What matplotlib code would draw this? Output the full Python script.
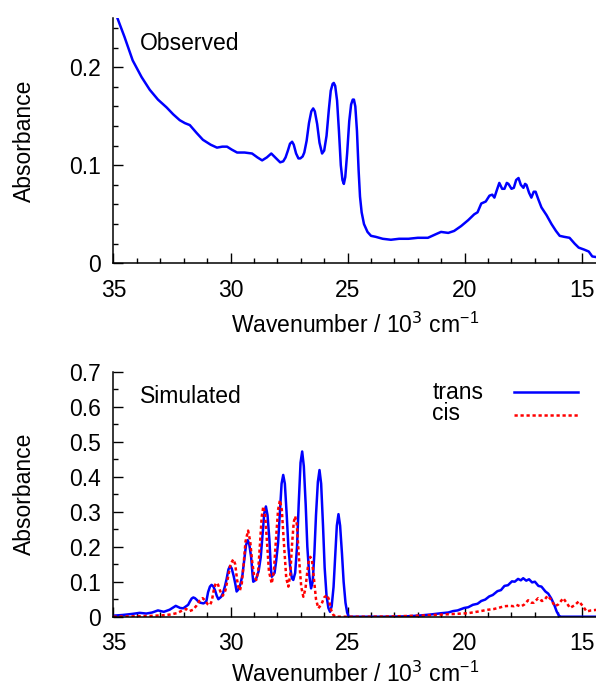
import matplotlib
matplotlib.use("Agg")
import matplotlib.pyplot as plt
from matplotlib.ticker import MultipleLocator, FuncFormatter

plt.rcParams['font.family'] = ['Liberation Sans', 'DejaVu Sans']

# observed spectrum
obs_x = [35.0, 34.83, 34.53, 34.18, 33.8, 33.45, 33.1, 32.73, 32.45, 32.17,
         31.95, 31.74, 31.45, 31.18, 30.85, 30.58, 30.35, 30.15, 29.95, 29.72,
         29.4, 29.08, 28.85, 28.65, 28.45, 28.26, 28.05, 27.88, 27.75, 27.65,
         27.55, 27.46, 27.37, 27.3, 27.2, 27.1, 27.02, 26.92, 26.85, 26.75,
         26.65, 26.55, 26.47, 26.4, 26.3, 26.2, 26.09, 26.0, 25.9, 25.8,
         25.72, 25.64, 25.59, 25.53, 25.45, 25.37, 25.29, 25.22, 25.16, 25.1,
         25.02, 24.93, 24.85, 24.78, 24.73, 24.67, 24.6, 24.53, 24.47, 24.4,
         24.3, 24.15, 24.0, 23.8, 23.5, 23.15, 22.8, 22.4, 22.0, 21.57,
         21.2, 21.01, 20.7, 20.45, 20.15, 19.85, 19.59, 19.45, 19.29, 19.1,
         18.94, 18.82, 18.73, 18.62, 18.52, 18.4, 18.3, 18.2, 18.13, 18.0,
         17.9, 17.8, 17.7, 17.6, 17.49, 17.42, 17.36, 17.25, 17.15, 17.05,
         16.97, 16.85, 16.72, 16.5, 16.29, 16.1, 15.94, 15.75, 15.52, 15.3,
         15.13, 14.9, 14.7, 14.55, 14.3]
obs_y = [0.262, 0.250, 0.231, 0.207, 0.190, 0.177, 0.167, 0.159, 0.152, 0.146,
         0.143, 0.141, 0.133, 0.126, 0.121, 0.118, 0.119, 0.119, 0.116, 0.113,
         0.113, 0.112, 0.108, 0.105, 0.108, 0.112, 0.107, 0.103, 0.104, 0.108,
         0.115, 0.122, 0.124, 0.121, 0.112, 0.107, 0.107, 0.109, 0.113, 0.125,
         0.143, 0.155, 0.158, 0.155, 0.142, 0.123, 0.112, 0.115, 0.130, 0.157,
         0.176, 0.183, 0.184, 0.181, 0.166, 0.135, 0.100, 0.085, 0.081, 0.088,
         0.112, 0.145, 0.162, 0.167, 0.167, 0.160, 0.135, 0.095, 0.068, 0.052,
         0.040, 0.032, 0.028, 0.027, 0.025, 0.024, 0.025, 0.025, 0.026, 0.026,
         0.030, 0.032, 0.031, 0.033, 0.038, 0.044, 0.050, 0.052, 0.061, 0.063,
         0.069, 0.070, 0.067, 0.075, 0.082, 0.076, 0.076, 0.082, 0.081, 0.076,
         0.077, 0.085, 0.087, 0.080, 0.077, 0.081, 0.080, 0.072, 0.067, 0.073,
         0.073, 0.065, 0.057, 0.049, 0.040, 0.033, 0.028, 0.027, 0.026, 0.020,
         0.016, 0.014, 0.012, 0.007, 0.006]

# simulated trans isomer
trans_x = [35.0, 34.6, 34.2, 33.88, 33.6, 33.35, 33.1, 32.85, 32.6, 32.34,
           32.15, 32.02, 31.81, 31.74, 31.66, 31.59, 31.52, 31.44, 31.37, 31.29,
           31.16, 31.1, 31.03, 30.96, 30.88, 30.81, 30.74, 30.66, 30.59, 30.52,
           30.4, 30.32, 30.24, 30.17, 30.09, 30.02, 29.95, 29.87, 29.8, 29.74,
           29.64, 29.57, 29.49, 29.42, 29.34, 29.27, 29.2, 29.12, 29.06, 29.03,
           28.92, 28.8, 28.71, 28.64, 28.56, 28.49, 28.42, 28.34, 28.28, 28.24,
           28.12, 28.05, 27.97, 27.9, 27.82, 27.75, 27.68, 27.6, 27.53, 27.45,
           27.38, 27.32, 27.24, 27.16, 27.09, 27.01, 26.94, 26.87, 26.79, 26.72,
           26.64, 26.56, 26.49, 26.42, 26.35, 26.27, 26.2, 26.13, 26.05, 25.98,
           25.9, 25.82, 25.75, 25.68, 25.6, 25.53, 25.46, 25.39, 25.32, 25.24,
           25.17, 25.09, 25.02, 24.95, 23.5, 22.5, 22.0, 21.5, 21.0, 20.7,
           20.5, 20.3, 20.02, 19.85, 19.65, 19.45, 19.29, 19.12, 18.95, 18.8,
           18.6, 18.45, 18.3, 18.15, 17.98, 17.86, 17.72, 17.6, 17.5, 17.37,
           17.25, 17.12, 17.0, 16.85, 16.72, 16.55, 16.43, 16.3, 16.18, 16.07,
           15.97, 15.9, 14.3]
trans_y = [0.003, 0.005, 0.008, 0.011, 0.009, 0.012, 0.018, 0.014, 0.020, 0.031,
           0.025, 0.024, 0.034, 0.043, 0.052, 0.055, 0.053, 0.048, 0.043, 0.040,
           0.038, 0.040, 0.045, 0.070, 0.086, 0.091, 0.087, 0.075, 0.060, 0.050,
           0.057, 0.068, 0.087, 0.107, 0.135, 0.145, 0.138, 0.117, 0.095, 0.072,
           0.080, 0.095, 0.120, 0.160, 0.204, 0.219, 0.207, 0.170, 0.120, 0.100,
           0.105, 0.130, 0.170, 0.230, 0.295, 0.315, 0.290, 0.220, 0.140, 0.114,
           0.125, 0.160, 0.210, 0.290, 0.380, 0.405, 0.380, 0.290, 0.200, 0.140,
           0.110, 0.105, 0.125, 0.200, 0.320, 0.440, 0.472, 0.430, 0.320, 0.200,
           0.120, 0.081, 0.100, 0.180, 0.290, 0.385, 0.419, 0.380, 0.260, 0.140,
           0.060, 0.025, 0.014, 0.030, 0.085, 0.170, 0.260, 0.293, 0.260, 0.180,
           0.100, 0.040, 0.012, 0.000, 0.000, 0.001, 0.003, 0.006, 0.010, 0.012,
           0.016, 0.018, 0.025, 0.027, 0.034, 0.037, 0.045, 0.049, 0.058, 0.062,
           0.073, 0.076, 0.088, 0.090, 0.101, 0.100, 0.108, 0.104, 0.110, 0.103,
           0.107, 0.098, 0.100, 0.088, 0.086, 0.072, 0.066, 0.052, 0.035, 0.015,
           0.003, 0.000, 0.000]

# simulated cis isomer
cis_x = [35.0, 33.5, 32.9, 32.6, 32.3, 32.05, 31.9, 31.75, 31.6, 31.45,
         31.33, 31.19, 31.08, 30.98, 30.88, 30.8, 30.72, 30.65, 30.6, 30.53,
         30.45, 30.38, 30.33, 30.22, 30.1, 30.0, 29.88, 29.8, 29.72, 29.65,
         29.6, 29.52, 29.44, 29.36, 29.25, 29.16, 29.08, 29.0, 28.9, 28.82,
         28.74, 28.67, 28.6, 28.52, 28.44, 28.36, 28.24, 28.15, 28.06, 27.97,
         27.89, 27.81, 27.72, 27.62, 27.53, 27.45, 27.37, 27.3, 27.24, 27.17,
         27.08, 26.98, 26.89, 26.8, 26.72, 26.65, 26.59, 26.52, 26.44, 26.35,
         26.25, 26.12, 26.0, 25.88, 25.8, 25.72, 25.61, 25.5, 24.0, 23.0,
         22.0, 21.0, 20.4, 19.86, 19.4, 19.0, 18.75, 18.57, 18.3, 18.07,
         17.9, 17.79, 17.6, 17.45, 17.29, 17.15, 17.05, 16.86, 16.7, 16.6,
         16.46, 16.3, 16.15, 16.0, 15.79, 15.65, 15.5, 15.3, 15.12, 14.95,
         14.79, 14.6, 14.3]
cis_y = [0.000, 0.002, 0.004, 0.006, 0.010, 0.018, 0.022, 0.016, 0.020, 0.032,
         0.045, 0.053, 0.046, 0.036, 0.033, 0.045, 0.075, 0.092, 0.097, 0.091,
         0.075, 0.062, 0.060, 0.075, 0.115, 0.150, 0.164, 0.150, 0.105, 0.080,
         0.075, 0.095, 0.150, 0.215, 0.246, 0.215, 0.160, 0.120, 0.105, 0.130,
         0.210, 0.285, 0.315, 0.290, 0.210, 0.130, 0.095, 0.130, 0.220, 0.305,
         0.333, 0.305, 0.210, 0.110, 0.086, 0.120, 0.210, 0.270, 0.287, 0.265,
         0.170, 0.085, 0.057, 0.080, 0.130, 0.163, 0.171, 0.160, 0.110, 0.050,
         0.024, 0.035, 0.055, 0.062, 0.050, 0.022, 0.005, 0.000, 0.000, 0.001,
         0.003, 0.006, 0.008, 0.010, 0.015, 0.020, 0.022, 0.025, 0.030, 0.031,
         0.030, 0.034, 0.029, 0.035, 0.047, 0.040, 0.040, 0.053, 0.045, 0.047,
         0.060, 0.048, 0.030, 0.035, 0.053, 0.040, 0.025, 0.033, 0.044, 0.030,
         0.015, 0.018, 0.020]

blue = '#0000ff'
red = '#ff0000'
fs = 16.5


def style_axes(ax, ymax, ymajor, yminor, xpad):
    ax.set_xlim(35, 14.39)
    ax.set_ylim(0, ymax)
    ax.spines['top'].set_visible(False)
    ax.spines['right'].set_visible(False)
    ax.xaxis.set_major_locator(MultipleLocator(5))
    ax.xaxis.set_minor_locator(MultipleLocator(1))
    ax.yaxis.set_major_locator(MultipleLocator(ymajor))
    ax.yaxis.set_minor_locator(MultipleLocator(yminor))
    ax.yaxis.set_major_formatter(FuncFormatter(lambda v, p: '%g' % round(v, 3)))
    ax.tick_params(which='both', direction='in', labelsize=fs, width=1)
    ax.tick_params(which='major', length=7)
    ax.tick_params(which='minor', length=3.5)
    ax.tick_params(axis='x', which='major', pad=11)
    ax.tick_params(axis='y', which='major', pad=9)
    for s in ax.spines.values():
        s.set_linewidth(1.1)
    ax.set_xlabel('Wavenumber / 10$^{3}$ cm$^{\\mathregular{-1}}$', fontsize=fs, labelpad=xpad)
    ax.set_ylabel('Absorbance', fontsize=fs, labelpad=24)


fig = plt.figure(figsize=(5.96, 6.86), dpi=100)
ax1 = fig.add_axes([0.1904, 0.6162, 0.8096, 0.3572])
ax2 = fig.add_axes([0.1904, 0.1010, 0.8096, 0.3572])

ax1.plot(obs_x, obs_y, color=blue, lw=1.8)
style_axes(ax1, 0.25, 0.1, 0.02, 8)
ax1.text(0.055, 0.895, 'Observed', transform=ax1.transAxes, fontsize=fs, va='center')

ax2.plot(trans_x, trans_y, color=blue, lw=1.8)
ax2.plot(cis_x, cis_y, color=red, lw=1.8, dashes=(1.3, 1.1))
style_axes(ax2, 0.7, 0.1, 0.05, 5)
ax2.text(0.055, 0.897, 'Simulated', transform=ax2.transAxes, fontsize=fs, va='center')

# gnuplot style key: labels left, sample lines right
ax2.text(0.661, 0.917, 'trans', transform=ax2.transAxes, fontsize=fs, va='center')
ax2.text(0.661, 0.831, 'cis', transform=ax2.transAxes, fontsize=fs, va='center')
ax2.plot([0.831, 0.962], [0.917, 0.917], transform=ax2.transAxes, color=blue, lw=1.8)
ax2.plot([0.831, 0.962], [0.823, 0.823], transform=ax2.transAxes, color=red, lw=1.8,
         dashes=(1.3, 1.1))

fig.savefig('out.png', dpi=100)
